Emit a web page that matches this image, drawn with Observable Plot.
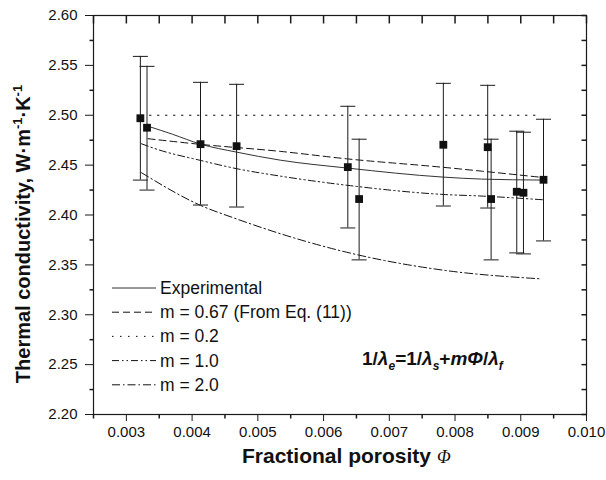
<!DOCTYPE html>
<html><head><meta charset="utf-8">
<script src="https://cdn.jsdelivr.net/npm/d3@7"></script>
<script src="https://cdn.jsdelivr.net/npm/@observablehq/plot@0.6"></script>
<style>
body{margin:0;background:#fff;}
#chart{width:606px;height:480px;}
</style></head><body><div id="chart"></div>
<script>
// ---- measured data ----
const porosity     = [0.003213, 0.003314, 0.004128, 0.004677, 0.006369, 0.006541, 0.007822, 0.008497, 0.008549, 0.008939, 0.009041, 0.009346];
const conductivity = [2.497, 2.4875, 2.471, 2.469, 2.448, 2.416, 2.4704, 2.468, 2.416, 2.4233, 2.4223, 2.4353];
const errLow       = [2.435, 2.425, 2.410, 2.408, 2.387, 2.355, 2.409, 2.407, 2.355, 2.362, 2.361, 2.374];
const errHigh      = [2.559, 2.549, 2.533, 2.531, 2.509, 2.476, 2.532, 2.530, 2.476, 2.484, 2.483, 2.496];

// ---- curves ----
const seriesNames = ["Experimental", "m = 0.67 (From Eq. (11))", "m = 0.2", "m = 1.0", "m = 2.0"];
const expX  = [0.00333, 0.0037, 0.00413, 0.00468, 0.00534, 0.00637, 0.00782, 0.0084, 0.00935];
const expY  = [2.489, 2.481, 2.471, 2.463, 2.455, 2.447, 2.438, 2.436, 2.435];
const m067X = [0.00333, 0.00413, 0.00534, 0.00637, 0.00782, 0.0084, 0.00935];
const m067Y = [2.4765, 2.4708, 2.4638, 2.4562, 2.4478, 2.4440, 2.4375];
const m02X  = [0.00323, 0.00928];
const m02Y  = [2.500, 2.500];
const m10X  = [0.00323, 0.00346, 0.00413, 0.00468, 0.00534, 0.00637, 0.00782, 0.0084, 0.00933];
const m10Y  = [2.4714, 2.466, 2.4547, 2.4464, 2.439, 2.4297, 2.4206, 2.419, 2.4153];
const m20X  = [0.00323, 0.00413, 0.00468, 0.00534, 0.00655, 0.00784, 0.0093];
const m20Y  = [2.4424, 2.4096, 2.3960, 2.3813, 2.3596, 2.3445, 2.336];

// ---- axis ticks ----
const xTicks = [0.003, 0.004, 0.005, 0.006, 0.007, 0.008, 0.009, 0.010];
const xMinor = [0.0025, 0.0035, 0.0045, 0.0055, 0.0065, 0.0075, 0.0085, 0.0095];
const yTicks = [2.20, 2.25, 2.30, 2.35, 2.40, 2.45, 2.50, 2.55, 2.60];
const yMinor = [2.225, 2.275, 2.325, 2.375, 2.425, 2.475, 2.525, 2.575];

const curveXs = [expX, m067X, m02X, m10X, m20X];
const curveYs = [expY, m067Y, m02Y, m10Y, m20Y];
const dashes = [null, "7,4", "1.5,6.5", "7,3,1.5,3,1.5,3", "8,3,1.5,3"];
const lineColors = ["#333", "#111", "#111", "#111", "#111"];

const points = porosity.map((x, i) => ({x, y: conductivity[i], lo: errLow[i], hi: errHigh[i]}));
const curves = curveXs.map((xs, k) => xs.map((x, i) => ({series: seriesNames[k], x, y: curveYs[k][i]})));

const seg = (x1, y1, x2, y2) => ({draw(c) { c.moveTo(x1, y1); c.lineTo(x2, y2); }});
const ink = "#1a1a1a";
const font = "'Liberation Sans', Arial, Helvetica, sans-serif";

const marks = [];
curves.forEach((data, k) => {
  marks.push(Plot.line(data, {x: "x", y: "y", curve: "monotone-x", stroke: lineColors[k], strokeWidth: 1, strokeDasharray: dashes[k]}));
});
marks.push(
  Plot.ruleX(points, {x: "x", y1: "lo", y2: "hi", stroke: ink, strokeWidth: 1}),
  Plot.dot(points, {x: "x", y: "lo", symbol: seg(-7.5, 0, 7.5, 0), stroke: ink, fill: "none", strokeWidth: 1}),
  Plot.dot(points, {x: "x", y: "hi", symbol: seg(-7.5, 0, 7.5, 0), stroke: ink, fill: "none", strokeWidth: 1}),
  Plot.dot(points, {x: "x", y: "y", symbol: "square", r: 4.4, fill: "#111", stroke: "none"}),
  // axes
  Plot.axisY({ticks: yTicks, tickSize: 8, tickPadding: 8, tickFormat: d3.format(".2f"), fontSize: 15, label: null, stroke: ink}),
  Plot.dot(yMinor, {y: d => d, frameAnchor: "left", symbol: seg(0, 0, -4, 0), stroke: ink, fill: "none"}),
  Plot.dot(yTicks.concat(yMinor), {y: d => d, frameAnchor: "right", symbol: seg(0, 0, -5, 0), stroke: ink, fill: "none"}),
  Plot.axisX({ticks: xTicks, tickSize: 7, tickPadding: 5, tickFormat: d3.format(".3f"), fontSize: 15, label: null, stroke: ink}),
  Plot.dot(xMinor, {x: d => d, frameAnchor: "bottom", symbol: seg(0, 0, 0, 4), stroke: ink, fill: "none"}),
  Plot.dot(xTicks.concat(xMinor), {x: d => d, frameAnchor: "top", symbol: seg(0, 0, 0, 8), stroke: ink, fill: "none"}),
  Plot.frame({stroke: ink, strokeWidth: 1.2})
);

const chart = Plot.plot({
  width: 606, height: 480,
  marginLeft: 93, marginRight: 20, marginTop: 15, marginBottom: 66,
  x: {domain: [0.0025, 0.010]},
  y: {domain: [2.20, 2.60]},
  style: {fontFamily: font, fontSize: "15px", color: "#111", background: "white"},
  marks
});
document.getElementById("chart").appendChild(chart);

// ---- titles, formula, legend ----
const svg = d3.select(chart);
const yt = svg.append("text")
  .attr("transform", "translate(30,234) rotate(-90)")
  .attr("text-anchor", "middle").attr("font-family", font).attr("font-weight", "bold")
  .attr("font-size", 20).attr("fill", "#111");
yt.append("tspan").text("Thermal conductivity, W·m");
yt.append("tspan").attr("dy", -8).attr("font-size", 13).text("-1");
yt.append("tspan").attr("dy", 8).text("·K");
yt.append("tspan").attr("dy", -8).attr("font-size", 13).text("-1");

const xt = svg.append("text").attr("x", 242).attr("y", 463).attr("text-anchor", "start")
  .attr("font-family", font).attr("font-weight", "bold").attr("font-size", 21).attr("fill", "#111");
xt.append("tspan").text("Fractional porosity ");
xt.append("tspan").attr("font-family", "'Liberation Serif', 'DejaVu Serif', serif").attr("font-style", "italic")
  .attr("font-weight", "normal").attr("font-size", 18).text("Φ");

const fm = svg.append("text").attr("x", 362).attr("y", 365).attr("text-anchor", "start")
  .attr("font-family", font).attr("font-weight", "bold").attr("font-size", 19).attr("fill", "#111");
const parts = [
  ["1/", 0, null, false], ["λ", 0, null, true], ["e", 5, 12, true],
  ["=1/", -5, null, false], ["λ", 0, null, true], ["s", 5, 12, true],
  ["+", -5, null, false], ["m", 0, null, true], ["Φ", 0, null, true], ["/", 0, null, false],
  ["λ", 0, null, true], ["f", 5, 12, true]
];
parts.forEach(([t, dy, fs, it]) => {
  const s = fm.append("tspan").text(t);
  if (dy) s.attr("dy", dy);
  if (fs) s.attr("font-size", fs);
  if (it) s.attr("font-style", "italic");
});

const lg = svg.append("g").attr("font-family", font).attr("font-size", 17.5).attr("fill", "#111").attr("text-anchor", "start");
seriesNames.forEach((name, i) => {
  const yy = 288 + i * 24.2;
  lg.append("line").attr("x1", 112).attr("x2", 156).attr("y1", yy).attr("y2", yy)
    .attr("stroke", lineColors[i]).attr("stroke-width", 1)
    .attr("stroke-dasharray", dashes[i]);
  lg.append("text").attr("x", 160).attr("y", yy + 6).text(name);
});
</script>
</body></html>
